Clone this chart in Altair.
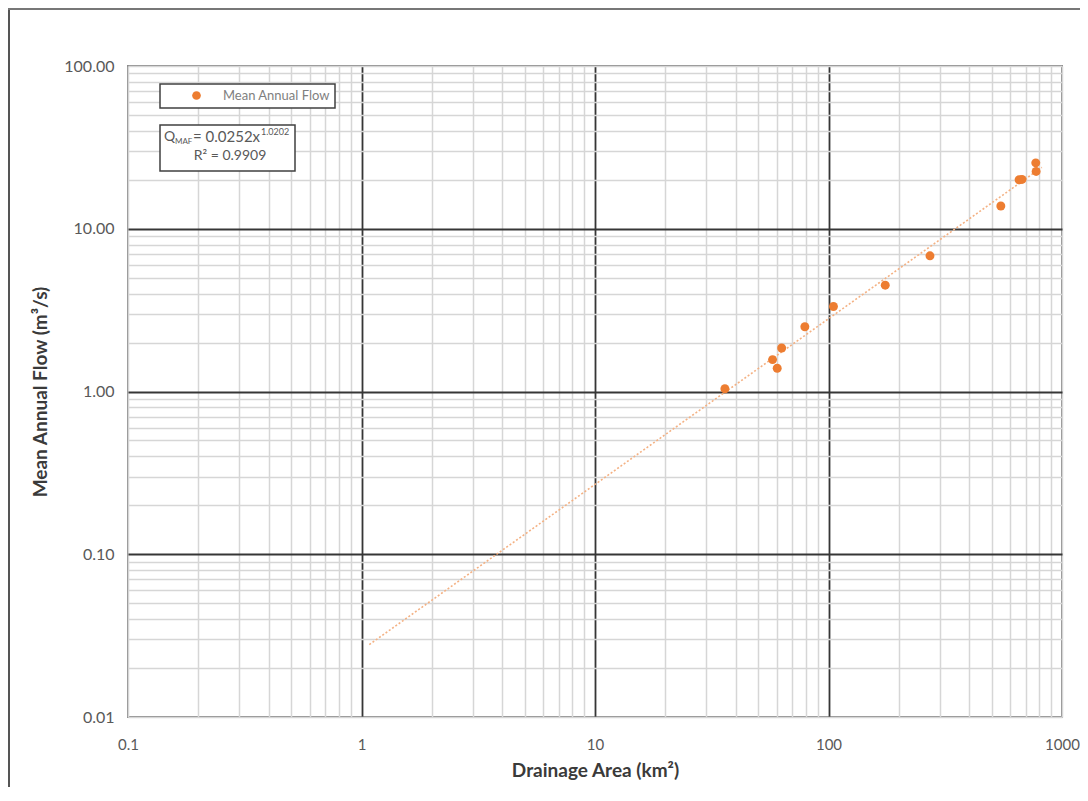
import json
import altair as alt
import pandas as pd

# ---- data ----
area = [36.0, 57.6, 60.3, 63.0, 79.2, 105, 175, 272, 547, 655, 674, 772, 775]
flow = [1.04, 1.57, 1.39, 1.85, 2.50, 3.33, 4.50, 6.82, 13.8, 20.0, 20.1, 25.4, 22.5]
series_name = "Mean Annual Flow"
trend_extent = [1.08, 820]

x_labels = [0.1, 1, 10, 100, 1000]
y_labels = [0.01, 0.1, 1, 10, 100]
x_major = [1, 10, 100]
y_major = [0.1, 1, 10]
x_ticks = sorted({round(m * 10 ** e, 6) for e in range(-1, 3) for m in range(1, 10)} | {1000})
y_ticks = sorted({round(m * 10 ** e, 6) for e in range(-2, 2) for m in range(1, 10)} | {100})

eq_main = "= 0.0252x"
eq_sup = "1.0202"
eq_q = "Q"
eq_sub = "MAF"
eq_r2 = "R² = 0.9909"

FONT = "Lato"
ORANGE = "#ED7D31"
TREND = "#F4B183"
MAJOR = "#363636"
MINOR = "#d6d6d6"
LABEL = "#595959"

df = pd.DataFrame({"area": area, "flow": flow, "series": [series_name] * len(area)})
one = pd.DataFrame({"k": [0]})


def cond(majors, a, b):
    return {"condition": {"test": "indexof(%s, datum.value) >= 0" % json.dumps(majors), "value": a}, "value": b}


x_enc = alt.X(
    "area:Q",
    scale=alt.Scale(type="log", domain=[0.1, 1000]),
    axis=alt.Axis(
        values=x_ticks,
        grid=True,
        gridColor=cond(x_major, MAJOR, MINOR),
        gridWidth=cond(x_major, 1.8, 1.5),
        ticks=False,
        domain=False,
        labelExpr="indexof(%s, datum.value) >= 0 ? format(datum.value, '~g') : ''" % json.dumps(x_labels),
        labelOverlap=False,
        labelFlush=False,
        labelBound=False,
        labelFont=FONT,
        labelFontSize=15,
        labelColor=LABEL,
        labelPadding=20,
        title="Drainage Area (km²)",
        titleFont=FONT,
        titleFontSize=19,
        titleFontWeight="bold",
        titleColor="#3a3a3a",
        titlePadding=9,
    ),
)

y_enc = alt.Y(
    "flow:Q",
    scale=alt.Scale(type="log", domain=[0.01, 100]),
    axis=alt.Axis(
        values=y_ticks,
        grid=True,
        gridColor=cond(y_major, MAJOR, MINOR),
        gridWidth=cond(y_major, 1.8, 1.5),
        ticks=False,
        domain=False,
        labelExpr="indexof(%s, datum.value) >= 0 ? format(datum.value, '.2f') : ''" % json.dumps(y_labels),
        labelOverlap=False,
        labelFlush=False,
        labelBound=False,
        labelFont=FONT,
        labelFontSize=16,
        labelColor=LABEL,
        labelPadding=14,
        title="Mean Annual Flow (m³/s)",
        titleFont=FONT,
        titleFontSize=19,
        titleFontWeight="bold",
        titleColor="#3a3a3a",
        titlePadding=13,
    ),
)

trend = (
    alt.Chart(df)
    .transform_regression("area", "flow", method="pow", extent=trend_extent)
    .mark_line(color=TREND, strokeDash=[2, 2], strokeWidth=1.6)
    .encode(x=x_enc, y=y_enc)
)

points = (
    alt.Chart(df)
    .mark_point(filled=True, opacity=1, size=80, shape="circle")
    .encode(
        x=x_enc,
        y=y_enc,
        color=alt.Color(
            "series:N",
            scale=alt.Scale(range=[ORANGE]),
            legend=alt.Legend(
                title=None,
                orient="none",
                legendX=32,
                legendY=18,
                padding=5,
                symbolOffset=25,
                labelOffset=20,
                symbolSize=75,
                symbolType="circle",
                labelFont=FONT,
                labelFontSize=13,
                labelColor="#7f7f7f",
                strokeColor="#404040",
                fillColor="white",
            ),
        ),
    )
)

# equation box
eq_box = alt.Chart(one).mark_rect(fill="white", stroke="#404040", strokeWidth=1.5).encode(
    x=alt.value(32), x2=alt.value(167), y=alt.value(59), y2=alt.value(105)
)


def txt(t, x, y, size, align="left"):
    return alt.Chart(one).mark_text(
        text=t, font=FONT, fontSize=size, color=LABEL, align=align, baseline="middle"
    ).encode(x=alt.value(x), y=alt.value(y))


eq_layers = [
    txt(eq_q, 36, 71, 14),
    txt(eq_sub, 47, 76, 8),
    txt(eq_main, 65, 71, 15),
    txt(eq_sup, 133, 66, 9),
    txt(eq_r2, 102, 90, 14, "center"),
]

# outer frame of the picture
frame_left = alt.Chart(one).mark_rule(color="#555555", strokeWidth=2).encode(
    x=alt.value(-119), y=alt.value(-57), y2=alt.value(740)
)
frame_top = alt.Chart(one).mark_rule(color="#777777", strokeWidth=2).encode(
    x=alt.value(-120), x2=alt.value(960), y=alt.value(-57)
)

chart = (
    alt.layer(trend, points, eq_box, *eq_layers, frame_left, frame_top)
    .properties(
        width=934,
        height=651,
        padding={"left": 120, "top": 58, "right": 18, "bottom": 70},
        autosize=alt.AutoSizeParams(type="none"),
        background="white",
    )
    .configure_view(stroke="#8a8a8a", strokeWidth=2)
    .configure_legend(strokeWidth=1.5)
)

chart.save("out.html", embed_options={"renderer": "svg", "actions": False})
